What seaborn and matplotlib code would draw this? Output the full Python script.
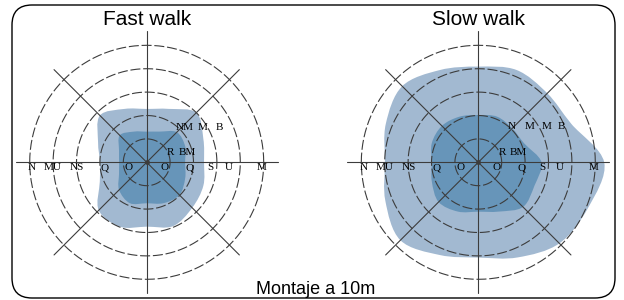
import numpy as np
import pandas as pd
import seaborn as sns
import matplotlib.pyplot as plt
from matplotlib.path import Path
from matplotlib.patches import PathPatch, FancyBboxPatch

# ---------------- data ----------------
panels = ["Fast walk", "Slow walk"]
caption = "Montaje a 10m"

ring_radii = [1, 2, 3, 4, 5]
spoke_angles = [0, 45, 90, 135]
spoke_len = 5.6

# region boundary radius, every 22.5 deg from east, counter-clockwise
blob_angles = np.arange(0, 360, 22.5)
fast_outer = [2.45, 2.62, 3.0, 2.47, 2.28, 2.47, 2.83, 2.25, 2.0, 2.17, 2.9, 2.98, 2.75, 2.95, 2.75, 2.62]
fast_inner = [1.64, 1.78, 1.82, 1.42, 1.31, 1.42, 1.63, 1.28, 1.18, 1.28, 1.67, 1.89, 1.75, 1.89, 1.98, 1.78]
slow_outer = [5.38, 4.3, 4.17, 4.27, 4.09, 4.27, 4.6, 4.28, 3.99, 4.3, 4.71, 4.29, 4.07, 4.4, 4.9, 5.08]
slow_inner = [2.7, 2.12, 2.05, 2.11, 2.02, 2.11, 2.2, 2.15, 1.99, 2.15, 2.4, 2.28, 2.11, 2.28, 2.7, 2.6]

axis_labels = ["N", "MU", "NS", "Q", "O", "O", "Q", "S", "U", "M"]
axis_label_x = [-4.9, -4.0, -2.98, -1.79, -0.76, 0.76, 1.85, 2.74, 3.5, 4.93]

fast_diag_labels = ["R", "BM", "NM", "M", "B"]
fast_diag_x = [1.01, 1.74, 1.64, 2.41, 3.12]
fast_diag_y = [0.43, 0.43, 1.5, 1.5, 1.5]
slow_diag_labels = ["R", "BM", "N", "M", "M", "B"]
slow_diag_x = [1.03, 1.71, 1.43, 2.18, 2.92, 3.56]
slow_diag_y = [0.43, 0.43, 1.52, 1.52, 1.52, 1.52]

light = "#a2b9d1"
dark = "#6795b9"
ink = "#3c3c3c"


def smooth_blob(radii):
    # closed catmull-rom curve through the boundary points
    a = np.deg2rad(blob_angles)
    r = np.asarray(radii)
    p = np.column_stack([r * np.cos(a), r * np.sin(a)])
    n = len(p)
    verts = [p[0]]
    codes = [Path.MOVETO]
    for i in range(n):
        p0, p1, p2, p3 = p[i - 1], p[i], p[(i + 1) % n], p[(i + 2) % n]
        verts += [p1 + (p2 - p0) / 6, p2 - (p3 - p1) / 6, p2]
        codes += [Path.CURVE4] * 3
    return Path(verts, codes)


theta = np.linspace(0, 2 * np.pi, 361)
rings = pd.DataFrame({
    "x": np.concatenate([r * np.cos(theta) for r in ring_radii]),
    "y": np.concatenate([r * np.sin(theta) for r in ring_radii]),
    "ring": np.repeat(ring_radii, len(theta)),
})
spokes = pd.DataFrame({
    "x": np.concatenate([[-spoke_len * np.cos(np.deg2rad(d)), spoke_len * np.cos(np.deg2rad(d))] for d in spoke_angles]),
    "y": np.concatenate([[-spoke_len * np.sin(np.deg2rad(d)), spoke_len * np.sin(np.deg2rad(d))] for d in spoke_angles]),
    "spoke": np.repeat(spoke_angles, 2),
})

sns.set_theme(style="white")
plt.rcParams["font.family"] = ["Liberation Sans", "DejaVu Sans"]

fig = plt.figure(figsize=(6.24, 3.0), dpi=100)
half = 5.8
size = 2 * half * 23.4
centres = [(146.7, 137.7), (478.3, 137.7)]

blobs = [(fast_outer, fast_inner), (slow_outer, slow_inner)]
diags = [(fast_diag_labels, fast_diag_x, fast_diag_y), (slow_diag_labels, slow_diag_x, slow_diag_y)]

for k, title in enumerate(panels):
    cx, cy = centres[k]
    ax = fig.add_axes([(cx - size / 2) / 624, (cy - size / 2) / 300, size / 624, size / 300])
    ax.set_xlim(-half, half)
    ax.set_ylim(-half, half)
    ax.set_aspect("equal")
    ax.axis("off")

    outer, inner = blobs[k]
    ax.add_patch(PathPatch(smooth_blob(outer), facecolor=light, edgecolor="none", zorder=1))
    ax.add_patch(PathPatch(smooth_blob(inner), facecolor=dark, edgecolor="none", zorder=2))

    sns.lineplot(data=rings, x="x", y="y", units="ring", estimator=None, sort=False,
                 color=ink, lw=0.8, linestyle=(0, (9, 2.5)), ax=ax, zorder=3)
    sns.lineplot(data=spokes, x="x", y="y", units="spoke", estimator=None, sort=False,
                 color=ink, lw=0.8, ax=ax, zorder=3)
    ax.scatter([0], [0], s=6, color=ink, zorder=4)
    ax.set_xlabel("")
    ax.set_ylabel("")

    for lab, x in zip(axis_labels, axis_label_x):
        ax.text(x, -0.24, lab, ha="center", va="center", fontsize=8,
                family="Liberation Serif", color="black", zorder=5)
    labs, xs, ys = diags[k]
    for lab, x, y in zip(labs, xs, ys):
        ax.text(x, y, lab, ha="center", va="center", fontsize=8,
                family="Liberation Serif", color="black", zorder=5)

    fig.text(cx / 624, 1 - 25 / 300, title, ha="center", va="baseline", fontsize=15, color="black")

fig.text(316 / 624, 6 / 300, caption, ha="center", va="baseline", fontsize=13, color="black")

frame = FancyBboxPatch((0.12, 0.02), 6.03, 2.93, boxstyle="round,pad=0,rounding_size=0.2",
                       transform=fig.dpi_scale_trans, facecolor="none", edgecolor="black",
                       lw=1.0, zorder=10)
fig.patches.append(frame)

fig.savefig("out.png", dpi=100)
